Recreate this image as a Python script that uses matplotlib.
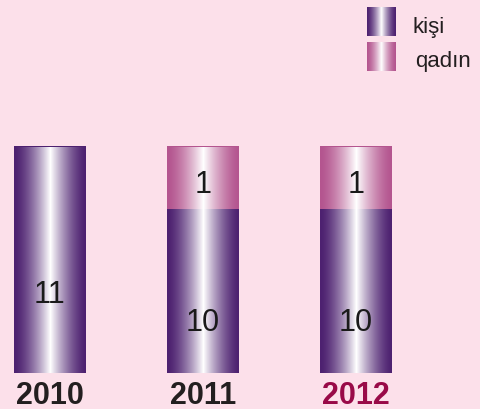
import numpy as np
import matplotlib
matplotlib.use("Agg")
import matplotlib.pyplot as plt
from matplotlib.colors import LinearSegmentedColormap

# -------------------------------
# Data
# -------------------------------
years = ["2010", "2011", "2012"]
men = [11, 10, 10]      # kişi
women = [0, 1, 1]       # qadın
year_colors = ["#231f20", "#231f20", "#990a48"]
legend_labels = ["kişi", "qadın"]

bg = "#fce0ea"
purple_edge = "#4d2170"
pink_edge = "#b4558f"

plt.rcParams["font.family"] = ["Liberation Sans", "DejaVu Sans"]

# the original is drawn as a schematic: a power scale keeps the
# small "qadın" segment readable like in the picture
K = 3.4
fwd = lambda y: np.sign(y) * np.abs(y) ** K
inv = lambda y: np.sign(y) * np.abs(y) ** (1.0 / K)


def cyl_cmap(edge):
    # 0 = edge colour, 1 = white highlight
    return LinearSegmentedColormap.from_list("cyl", [edge, "#ffffff"])


def cyl_grad(n=256):
    t = np.linspace(0, 1, n)
    d = np.abs(t - 0.5) * 2          # 0 in the middle, 1 at the edges
    return ((1 - d) ** 1.5).reshape(1, -1)


fig = plt.figure(figsize=(4.8, 4.1), dpi=100, facecolor=bg)
ax = fig.add_axes([0, 36 / 410, 1, 374 / 410])
ax.set_facecolor(bg)
ax.set_yscale("function", functions=(fwd, inv))

x = np.arange(len(years))
width = 0.47
grad = cyl_grad()

bars_m = ax.bar(x, men, width=width, color=purple_edge, linewidth=0)
bars_w = ax.bar(x, women, width=width, bottom=men, color=pink_edge, linewidth=0)

for bars, edge in [(bars_m, purple_edge), (bars_w, pink_edge)]:
    for b in bars:
        if b.get_height() <= 0:
            continue
        x0, y0 = b.get_x(), b.get_y()
        im = ax.imshow(grad, cmap=cyl_cmap(edge), vmin=0, vmax=1, aspect="auto",
                       extent=(x0, x0 + b.get_width(), y0, y0 + b.get_height()),
                       interpolation="bilinear", zorder=2)
        im.set_clip_path(b)

# value labels inside the segments
def label_pos(bottom, top, frac):
    return inv(fwd(bottom) + frac * (fwd(top) - fwd(bottom)))

for i in range(len(years)):
    frac = 0.35 if women[i] == 0 else 0.31
    ax.text(x[i], label_pos(0, men[i], frac), str(men[i]), ha="center", va="center",
            fontsize=22, color="#1a1a1a", zorder=3)
    if women[i] > 0:
        ax.text(x[i], label_pos(men[i], men[i] + women[i], 0.4), str(women[i]),
                ha="center", va="center", fontsize=22, color="#1a1a1a", zorder=3)

ax.set_xlim(-50 / 153, 2 + 124 / 153)
ax.set_ylim(0, 11 * (374 / 227) ** (1 / K))
ax.set_xticks(x)
ax.set_xticklabels(years, fontsize=22, fontweight="bold")
for lbl, c in zip(ax.get_xticklabels(), year_colors):
    lbl.set_color(c)
ax.tick_params(axis="x", length=0, pad=5)
ax.set_yticks([])
for s in ax.spines.values():
    s.set_visible(False)

# legend with gradient swatches
for j, (lab, edge) in enumerate(zip(legend_labels, [purple_edge, pink_edge])):
    top = 8 + j * 35
    lax = fig.add_axes([367 / 480, 1 - (top + 29) / 410, 29 / 480, 29 / 410])
    lax.imshow(grad, cmap=cyl_cmap(edge), vmin=0, vmax=1, aspect="auto", interpolation="bilinear")
    lax.axis("off")
    fig.text((413 + j * 2) / 480, 1 - (top + 19) / 410, lab, fontsize=16,
             color="#231f20", va="center", ha="left")

fig.savefig("out.png", dpi=100, facecolor=bg)
